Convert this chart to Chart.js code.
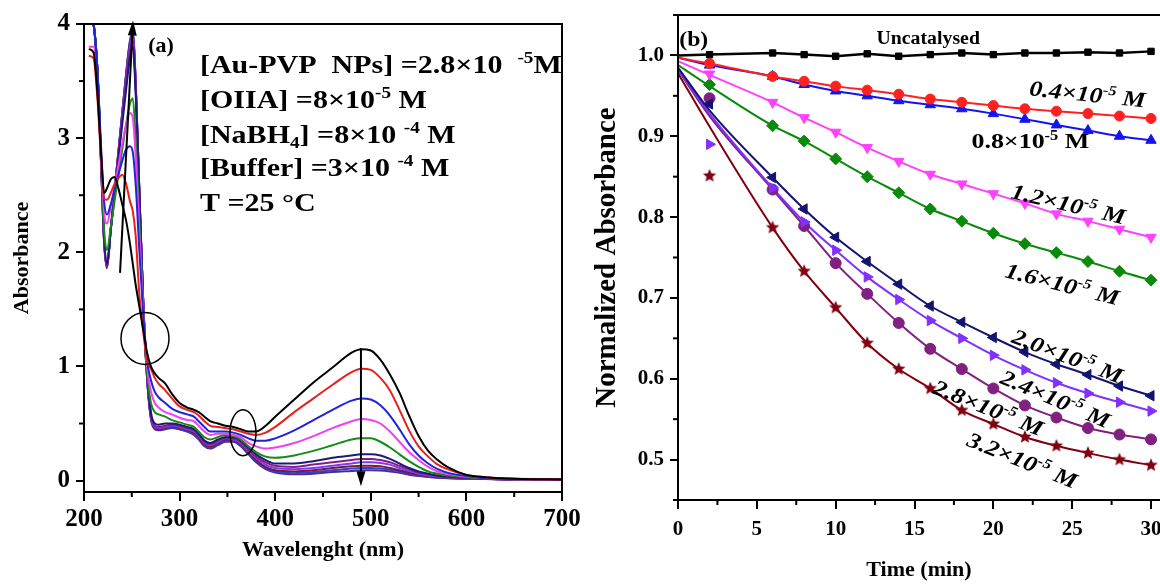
<!DOCTYPE html>
<html><head><meta charset="utf-8">
<script src="https://cdn.jsdelivr.net/npm/chart.js@4.4.1/dist/chart.umd.min.js"></script>
<style>
html,body{margin:0;padding:0;background:#fff;}
#wrap{position:relative;width:1160px;height:588px;overflow:hidden;}
#ca{position:absolute;left:0;top:0;}
#cb{position:absolute;left:580px;top:0;}
</style></head><body>
<div id="wrap"><canvas id="ca" width="580" height="588"></canvas><canvas id="cb" width="580" height="588"></canvas></div>
<script>
// ---------------- DATA: panel (a) UV-vis spectra ----------------
const wavelengths = [205,210,214,218,221,224,228,232,236,240,244,248,251,254,258,262,266,270,274,278,285,292,300,308,315,320,326,332,340,348,356,364,372,380,390,400,420,440,460,480,490,500,510,520,530,540,550,560,570,580,600,620,650,700];
const specBlack  = [3.78,3.75,3.4,2.85,2.52,2.56,2.64,2.66,2.56,2.42,2.28,2.08,1.9,1.72,1.52,1.32,1.12, 1.0,0.94,0.9,0.85, 0.76,0.68,0.64,0.62,0.6, 0.56,0.52,0.5,0.48,0.47, 0.45,0.43,0.43,0.48,0.56, 0.71,0.86,0.99,1.12,1.15, 1.14,1.06,0.93,0.77,0.57, 0.39,0.26,0.18,0.12,0.05, 0.03,0.015,0.01];
const specRed    = [3.72,3.7,3.35,2.8,2.47,2.46,2.52,2.6,2.65,2.68,2.6,2.45,2.36,2.15,1.62,1.3,1.05, 0.98,0.9,0.85,0.79, 0.72,0.65,0.62,0.6,0.57, 0.52,0.48,0.47,0.46,0.45, 0.43,0.41,0.4,0.42,0.47, 0.6,0.72,0.84,0.95,0.98, 0.97,0.9,0.79,0.62,0.44, 0.3,0.21,0.14,0.1,0.05, 0.03,0.015,0.01];
const specBlue   = [4.1,4.0,3.6,2.9,2.45,2.33,2.42,2.55,2.68,2.8,2.9,2.93,2.88,2.6,2.0,1.45,1.05, 0.88,0.78,0.73,0.68, 0.63,0.6,0.58,0.56,0.52, 0.47,0.43,0.43,0.43,0.42, 0.4,0.37,0.35,0.35,0.37, 0.44,0.53,0.62,0.7,0.72, 0.71,0.66,0.57,0.45,0.32, 0.22,0.15,0.1,0.07,0.04, 0.02,0.015,0.01];
const specMagenta= [3.8,3.8,3.45,2.8,2.35,2.25,2.4,2.58,2.76,2.95,3.12,3.22,3.18,2.85,2.15,1.5,1.0, 0.78,0.68,0.64,0.6, 0.58,0.55,0.53,0.52,0.48, 0.43,0.4,0.41,0.41,0.4, 0.38,0.33,0.3,0.28,0.29, 0.33,0.39,0.46,0.52,0.54, 0.53,0.5,0.43,0.34,0.25, 0.18,0.12,0.08,0.06,0.035, 0.02,0.012,0.01];
const specGreen  = [4.1,4.0,3.6,2.8,2.2,2.02,2.22,2.45,2.68,2.9,3.12,3.3,3.35,3.0,2.25,1.5,0.95, 0.68,0.6,0.58,0.56, 0.53,0.51,0.49,0.47,0.43, 0.38,0.36,0.38,0.4,0.39, 0.36,0.3,0.25,0.21,0.2, 0.22,0.26,0.31,0.36,0.37, 0.37,0.34,0.29,0.23,0.17, 0.12,0.08,0.06,0.045,0.03, 0.02,0.012,0.01];
const specNavy   = [4.1,4.0,3.6,2.8,2.15,1.9,2.2,2.5,2.82,3.12,3.42,3.7,3.8,3.4,2.5,1.55,0.95, 0.6,0.5,0.49,0.5, 0.5,0.49,0.47,0.45,0.41, 0.35,0.33,0.36,0.38,0.38, 0.35,0.29,0.23,0.18,0.15, 0.15,0.17,0.2,0.22,0.23, 0.23,0.22,0.19,0.15,0.11, 0.08,0.06,0.045,0.035,0.025, 0.018,0.012,0.01];
const specPurple = [4.1,4.0,3.6,2.78,2.12,1.88,2.2,2.52,2.85,3.17,3.48,3.76,3.85,3.45,2.5,1.55,0.92, 0.58,0.48,0.47,0.48, 0.49,0.48,0.46,0.44,0.4, 0.34,0.32,0.35,0.38,0.37, 0.34,0.27,0.21,0.16,0.13, 0.12,0.14,0.16,0.18,0.19, 0.19,0.18,0.16,0.13,0.1, 0.07,0.055,0.04,0.03,0.02, 0.015,0.01,0.01];
const specViolet = [4.1,4.0,3.6,2.76,2.1,1.88,2.2,2.53,2.87,3.2,3.52,3.8,3.88,3.5,2.5,1.55,0.9, 0.56,0.47,0.46,0.47, 0.48,0.47,0.45,0.43,0.39, 0.33,0.31,0.34,0.37,0.36, 0.33,0.26,0.2,0.14,0.11, 0.1,0.11,0.13,0.15,0.16, 0.16,0.155,0.14,0.11,0.085, 0.06,0.045,0.035,0.028,0.02, 0.015,0.01,0.01];
const specWine   = [4.1,4.0,3.6,2.75,2.1,1.87,2.2,2.54,2.88,3.22,3.55,3.82,3.9,3.5,2.5,1.55,0.9, 0.55,0.46,0.45,0.46, 0.47,0.46,0.44,0.42,0.38, 0.32,0.3,0.33,0.36,0.35, 0.32,0.25,0.18,0.12,0.09, 0.08,0.09,0.11,0.125,0.13, 0.13,0.125,0.11,0.09,0.07, 0.05,0.04,0.03,0.025,0.02, 0.015,0.01,0.01];
const specRoyal  = [4.1,4.0,3.6,2.75,2.1,1.87,2.2,2.54,2.88,3.22,3.56,3.84,3.92,3.5,2.5,1.55,0.9, 0.55,0.46,0.45,0.46, 0.46,0.45,0.43,0.41,0.37, 0.31,0.29,0.32,0.35,0.35, 0.31,0.24,0.17,0.11,0.08, 0.065,0.075,0.09,0.105,0.11, 0.11,0.105,0.095,0.08,0.06, 0.045,0.035,0.028,0.022,0.018, 0.014,0.01,0.01];
const specIndigo = [4.1,4.0,3.6,2.75,2.1,1.86,2.2,2.54,2.88,3.22,3.56,3.85,3.93,3.5,2.5,1.55,0.9, 0.54,0.45,0.44,0.45, 0.46,0.45,0.43,0.4,0.36, 0.3,0.28,0.31,0.34,0.34, 0.3,0.23,0.16,0.1,0.07, 0.055,0.06,0.075,0.085,0.09, 0.09,0.088,0.08,0.068,0.052, 0.04,0.032,0.025,0.02,0.016, 0.013,0.01,0.01];
const xTicksA = [200,300,400,500,600,700];
const yTicksA = [0,1,2,3,4];

// ---------------- DATA: panel (b) kinetics ----------------
const seriesNames = ['Uncatalysed','0.4×10-5 M','0.8×10-5 M','1.2×10-5 M','1.6×10-5 M','2,0×10-5 M','2.4×10-5 M','2.8×10-5 M','3.2×10-5 M'];
const timesObs = [2,6,8,10,12,14,16,18,20,22,24,26,28,30];
const obsUncat  = [1.001,1.003,1.001,0.999,1.002,0.999,1.001,1.003,1.001,1.003,1.003,1.004,1.003,1.005];
const obs04 = [0.990,0.974,0.968,0.962,0.957,0.952,0.946,0.942,0.938,0.934,0.931,0.928,0.925,0.922];
const obs08 = [0.988,0.974,0.964,0.956,0.950,0.944,0.939,0.934,0.928,0.921,0.914,0.907,0.900,0.895];
const obs12 = [0.977,0.942,0.923,0.905,0.886,0.869,0.853,0.841,0.829,0.817,0.804,0.795,0.785,0.775];
const obs16 = [0.964,0.913,0.894,0.872,0.850,0.830,0.810,0.795,0.780,0.767,0.756,0.745,0.733,0.722];
const obs20 = [0.940,0.849,0.810,0.775,0.745,0.717,0.690,0.670,0.651,0.633,0.618,0.605,0.591,0.579];
const obs24 = [0.890,0.836,0.794,0.759,0.726,0.698,0.672,0.650,0.629,0.611,0.595,0.582,0.571,0.560];
const obs28 = [0.947,0.834,0.789,0.743,0.705,0.669,0.637,0.612,0.588,0.567,0.552,0.539,0.531,0.525];
const obs32 = [0.851,0.787,0.733,0.688,0.644,0.612,0.588,0.561,0.544,0.528,0.517,0.508,0.500,0.493];
// fitted curve values read at t=0 and t=2 (later points coincide with markers)
const fitAt0 = [1.000,0.997,0.997,0.993,0.988,0.985,0.983,0.982,0.978];
const fitAt2 = [1.001,0.990,0.988,0.976,0.962,0.932,0.928,0.925,0.912];
const xTicksB = [0,5,10,15,20,25,30];
const yTicksB = [0.5,0.6,0.7,0.8,0.9,1.0];

// ---------------- helpers ----------------
const FONT = '"Liberation Serif", "Times New Roman", serif';
Chart.defaults.font.family = FONT;
Chart.defaults.font.weight = 'bold';
Chart.defaults.color = '#000';

function richText(ctx, x, y, segs, o) {
  ctx.save();
  ctx.translate(x, y);
  ctx.rotate((o.rot || 0) * Math.PI / 180);
  ctx.scale(o.sx || 1, 1);
  const st = o.italic ? 'italic ' : '';
  const base = st + 'bold ' + o.size + 'px ' + FONT;
  const small = st + 'bold ' + Math.round(o.size * 0.62) + 'px ' + FONT;
  let w = 0;
  segs.forEach(s => { ctx.font = (s.sup || s.sub) ? small : base; s.w = ctx.measureText(s.t).width; w += s.w; });
  let cx = o.align === 'left' ? 0 : -w / 2;
  ctx.fillStyle = '#000';
  ctx.textBaseline = 'alphabetic';
  segs.forEach(s => {
    ctx.font = (s.sup || s.sub) ? small : base;
    const dy = s.sup ? -o.size * 0.4 : (s.sub ? o.size * 0.2 : 0);
    ctx.fillText(s.t, cx, dy + o.size * 0.33);
    cx += s.w;
  });
  ctx.restore();
}
function segsFor(label) {
  const i = label.indexOf('10-');
  if (i < 0) return [{t: label}];
  return [{t: label.slice(0, i + 2)}, {t: label.slice(i + 2, i + 4), sup: true}, {t: label.slice(i + 4)}];
}
function starCanvas(color, r) {
  const c = document.createElement('canvas');
  const s = Math.ceil(r * 2 + 2);
  c.width = s; c.height = s;
  const g = c.getContext('2d');
  g.fillStyle = color;
  g.beginPath();
  for (let i = 0; i < 10; i++) {
    const a = -Math.PI / 2 + i * Math.PI / 5;
    const rr = i % 2 ? r * 0.45 : r;
    g.lineTo(s / 2 + rr * Math.cos(a), s / 2 + rr * Math.sin(a));
  }
  g.closePath(); g.fill();
  return c;
}

const minorTicks = {
  id: 'minorTicks',
  afterDatasetsDraw(chart, args, opts) {
    const {ctx, chartArea: ca, scales} = chart;
    ctx.save(); ctx.strokeStyle = '#000'; ctx.lineWidth = 2;
    const run = (sc, step, horiz) => {
      const major = sc.ticks.map(t => t.value);
      const k0 = Math.ceil(sc.min / step - 1e-9), k1 = Math.floor(sc.max / step + 1e-9);
      for (let k = k0; k <= k1; k++) {
        const v = k * step;
        if (major.some(m => Math.abs(m - v) < step / 10)) continue;
        const p = sc.getPixelForValue(v);
        ctx.beginPath();
        if (horiz) { ctx.moveTo(p, ca.bottom); ctx.lineTo(p, ca.bottom + opts.len); }
        else { ctx.moveTo(ca.left, p); ctx.lineTo(ca.left - opts.len, p); }
        ctx.stroke();
      }
    };
    run(scales.x, opts.x, true);
    run(scales.y, opts.y, false);
    ctx.lineWidth = 2;
    ctx.beginPath();
    ctx.moveTo(ca.left, ca.top); ctx.lineTo(ca.left, ca.bottom); ctx.lineTo(opts.right ? ca.right : ca.right + 2, ca.bottom);
    ctx.moveTo(ca.left, ca.top); ctx.lineTo(ca.right, ca.top);
    if (opts.right) { ctx.lineTo(ca.right, ca.bottom); }
    ctx.stroke();
    ctx.restore();
  }
};

// ---------------- panel (a) ----------------
const specColors = ['#000000','#e8201c','#1f24d8','#f040f0','#178a17','#1c1c78','#8a1a8a','#7a3cf0','#7a1838','#3040d0','#4a2a9a'];
const specSeries = [specBlack, specRed, specBlue, specMagenta, specGreen, specNavy, specPurple, specViolet, specWine, specRoyal, specIndigo];
const dsA = specSeries.map((arr, i) => ({
  data: wavelengths.map((w, j) => ({x: w, y: arr[j]})),
  showLine: true, borderColor: specColors[i], borderWidth: 2, pointRadius: 0,
  cubicInterpolationMode: 'monotone'
}));

const annA = {
  id: 'annA',
  afterDatasetsDraw(chart) {
    const {ctx, scales: {x, y}} = chart;
    ctx.save();
    ctx.strokeStyle = '#000'; ctx.fillStyle = '#000'; ctx.lineWidth = 2;
    const a0 = [x.getPixelForValue(237.7), y.getPixelForValue(1.82)];
    const a1 = [x.getPixelForValue(251.3), y.getPixelForValue(4.03)];
    const arrow = (p0, p1) => {
      const ang = Math.atan2(p1[1] - p0[1], p1[0] - p0[0]);
      const L = 15, H = 4.5;
      const bx = p1[0] - L * Math.cos(ang), by = p1[1] - L * Math.sin(ang);
      ctx.beginPath(); ctx.moveTo(p0[0], p0[1]); ctx.lineTo(bx, by); ctx.stroke();
      ctx.beginPath(); ctx.moveTo(p1[0], p1[1]);
      ctx.lineTo(bx + H * Math.sin(ang), by - H * Math.cos(ang));
      ctx.lineTo(bx - H * Math.sin(ang), by + H * Math.cos(ang));
      ctx.closePath(); ctx.fill();
    };
    arrow(a0, a1);
    arrow([x.getPixelForValue(489.7), y.getPixelForValue(1.16)], [x.getPixelForValue(489.7), y.getPixelForValue(-0.05)]);
    ctx.lineWidth = 1.5;
    ctx.beginPath(); ctx.ellipse(x.getPixelForValue(263.8), y.getPixelForValue(1.245), 24, 26, 0, 0, Math.PI * 2); ctx.stroke();
    ctx.beginPath(); ctx.ellipse(x.getPixelForValue(366.3), y.getPixelForValue(0.42), 13, 23, 0, 0, Math.PI * 2); ctx.stroke();
    richText(ctx, x.getPixelForValue(280.5), y.getPixelForValue(3.82), [{t: '(a)'}], {size: 22});
    const lx = x.getPixelForValue(321.3);
    const o = {size: 25, sx: 1.2, align: 'left'};
    richText(ctx, lx, y.getPixelForValue(3.64), [{t: '[Au-PVP  NPs] =2.8×10  '}, {t: '-5', sup: 1}, {t: 'M'}], o);
    richText(ctx, lx, y.getPixelForValue(3.34), [{t: '[OIIA] =8×10'}, {t: '-5', sup: 1}, {t: ' M'}], o);
    richText(ctx, lx, y.getPixelForValue(3.03), [{t: '[NaBH'}, {t: '4', sub: 1}, {t: '] =8×10 '}, {t: '-4', sup: 1}, {t: ' M'}], o);
    richText(ctx, lx, y.getPixelForValue(2.74), [{t: '[Buffer] =3×10 '}, {t: '-4', sup: 1}, {t: ' M'}], o);
    richText(ctx, lx, y.getPixelForValue(2.43), [{t: 'T =25 °C'}], o);
    ctx.restore();
  }
};

new Chart(document.getElementById('ca'), {
  type: 'scatter',
  data: {datasets: dsA},
  options: {
    responsive: false, animation: false,
    layout: {autoPadding: false, padding: {top: 24, right: 18, bottom: 0, left: 0}},
    plugins: {legend: {display: false}, tooltip: {enabled: false}, minorTicks: {x: 50, y: 0.5, len: 5, right: true}},
    scales: {
      x: {
        type: 'linear', min: 200, max: 700,
        afterBuildTicks: s => { s.ticks = xTicksA.map(v => ({value: v})); },
        afterFit: s => { s.height = 96; s.paddingLeft = 0; s.paddingRight = 0; },
        grid: {drawOnChartArea: false, color: '#000', lineWidth: 2, tickLength: 9},
        border: {display: false},
        ticks: {font: {size: 25, weight: 'bold'}, padding: 4, color: '#000', maxRotation: 0},
        title: {display: true, text: 'Wavelenght (nm)', font: {size: 22, weight: 'bold'}, padding: {top: 0, bottom: 24}, color: '#000'}
      },
      y: {
        type: 'linear', min: -0.1, max: 4.0,
        afterBuildTicks: s => { s.ticks = yTicksA.map(v => ({value: v})); },
        afterFit: s => { s.width = 84; s.paddingTop = 0; s.paddingBottom = 0; },
        grid: {drawOnChartArea: false, color: '#000', lineWidth: 2, tickLength: 8},
        border: {display: false},
        ticks: {font: {size: 25, weight: 'bold'}, padding: 6, color: '#000'},
        title: {display: true, text: 'Absorbance', font: {size: 22, weight: 'bold'}, padding: {top: 9, bottom: 0}, color: '#000'}
      }
    }
  },
  plugins: [minorTicks, annA]
});

// ---------------- panel (b) ----------------
const obsSeries = [obsUncat, obs04, obs08, obs12, obs16, obs20, obs24, obs28, obs32];
const colB = ['#000000','#ff2020','#1414f0','#ff40ff','#0a8a0a','#141470','#8030ff','#802080','#800010'];
const styleB = [
  {pointStyle: 'rect', r: 4.5, rot: 0},
  {pointStyle: 'circle', r: 5, rot: 0},
  {pointStyle: 'triangle', r: 6, rot: 0},
  {pointStyle: 'triangle', r: 6, rot: 180},
  {pointStyle: 'rectRot', r: 6, rot: 0},
  {pointStyle: 'triangle', r: 6, rot: -90},
  {pointStyle: 'triangle', r: 6, rot: 90},
  {pointStyle: 'circle', r: 5.5, rot: 0},
  {pointStyle: starCanvas('#800010', 7), r: 7, rot: 0}
];
const dsB = [];
obsSeries.forEach((obs, i) => {
  const fitPts = [{x: 0, y: fitAt0[i]}, {x: 2, y: fitAt2[i]}].concat(timesObs.slice(1).map((t, j) => ({x: t, y: obs[j + 1]})));
  dsB.push({
    data: fitPts, showLine: true, borderColor: colB[i], borderWidth: i === 0 ? 2.5 : 2, pointRadius: 0,
    cubicInterpolationMode: i === 0 ? 'default' : 'monotone', tension: 0, order: 2
  });
  dsB.push({
    label: seriesNames[i],
    data: timesObs.map((t, j) => ({x: t, y: obs[j]})), showLine: false,
    pointStyle: styleB[i].pointStyle, pointRadius: styleB[i].r, pointRotation: styleB[i].rot,
    backgroundColor: colB[i], borderColor: colB[i], borderWidth: 1, order: 1
  });
});

const annB = {
  id: 'annB',
  afterDatasetsDraw(chart) {
    const {ctx, scales: {x, y}} = chart;
    const P = (t, v) => [x.getPixelForValue(t), y.getPixelForValue(v)];
    const lab = (t, v, segs, o) => { const p = P(t, v); richText(ctx, p[0], p[1], segs, o); };
    lab(1.0, 1.021, [{t: '(b)'}], {size: 22, sx: 1.08});
    lab(15.87, 1.022, [{t: seriesNames[0]}], {size: 18, sx: 1.1});
    const it = (rot) => ({size: 22, sx: 1.18, italic: true, rot});
    lab(25.97, 0.952, segsFor(seriesNames[1]), it(6));
    lab(22.35, 0.894, segsFor(seriesNames[2]), {size: 22, sx: 1.18, rot: 0});
    lab(24.76, 0.816, segsFor(seriesNames[3]), it(13));
    lab(24.38, 0.717, segsFor(seriesNames[4]), it(14));
    lab(24.7, 0.628, segsFor(seriesNames[5]), it(21));
    lab(23.94, 0.575, segsFor(seriesNames[6]), it(23));
    lab(19.68, 0.564, segsFor(seriesNames[7]), it(22));
    lab(21.84, 0.499, segsFor(seriesNames[8]), it(22));
  }
};

new Chart(document.getElementById('cb'), {
  type: 'scatter',
  data: {datasets: dsB},
  options: {
    responsive: false, animation: false,
    layout: {autoPadding: false, padding: {top: 15, right: 0, bottom: 0, left: 0}},
    plugins: {legend: {display: false}, tooltip: {enabled: false}, minorTicks: {x: 2.5, y: 0.05, len: 5, right: false}},
    scales: {
      x: {
        type: 'linear', min: 0, max: 30.57,
        afterBuildTicks: s => { s.ticks = xTicksB.map(v => ({value: v})); },
        afterFit: s => { s.height = 88; s.paddingLeft = 0; s.paddingRight = 0; },
        grid: {drawOnChartArea: false, color: '#000', lineWidth: 2, tickLength: 9},
        border: {display: false},
        ticks: {font: {size: 21, weight: 'bold'}, padding: 8, color: '#000', maxRotation: 0},
        title: {display: true, text: 'Time (min)', font: {size: 22, weight: 'bold'}, padding: {top: 0, bottom: 4}, color: '#000'}
      },
      y: {
        type: 'linear', min: 0.45, max: 1.05,
        afterBuildTicks: s => { s.ticks = yTicksB.map(v => ({value: v})); },
        afterFit: s => { s.width = 98; s.paddingTop = 0; s.paddingBottom = 0; },
        grid: {drawOnChartArea: false, color: '#000', lineWidth: 2, tickLength: 8},
        border: {display: false},
        ticks: {font: {size: 21, weight: 'bold'}, padding: 6, color: '#000', callback: v => v.toFixed(1)},
        title: {display: true, text: 'Normalized Absorbance', font: {size: 29, weight: 'bold'}, padding: {top: 10, bottom: 0}, color: '#000'}
      }
    }
  },
  plugins: [minorTicks, annB]
});
</script>
</body></html>
